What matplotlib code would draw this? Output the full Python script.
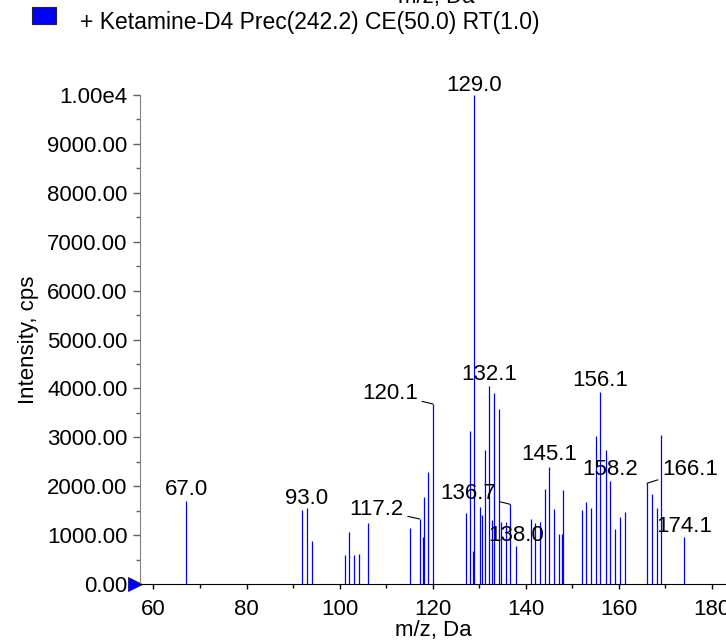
import matplotlib
matplotlib.use('Agg')
import matplotlib.pyplot as plt
from matplotlib.ticker import MultipleLocator, FuncFormatter

plt.rcParams['font.family'] = ['Liberation Sans', 'DejaVu Sans']

# product ion spectrum
mz = [67.0, 92.0, 93.0, 94.1, 101.1, 102.1, 103.1, 104.1, 106.1, 115.1,
      117.2, 117.9, 118.2, 119.1, 120.1, 127.1, 128.1, 128.6, 129.0, 130.1,
      130.6, 131.2, 132.1, 132.7, 133.2, 134.2, 134.7, 135.7, 136.7, 138.0,
      141.1, 142.1, 143.1, 144.1, 145.1, 146.1, 147.2, 147.8, 148.1, 152.1,
      153.1, 154.1, 155.2, 156.1, 157.2, 158.2, 159.2, 160.3, 161.3, 166.1,
      167.2, 168.2, 169.2, 174.1]
intensity = [1700, 1510, 1550, 880, 600, 1060, 590, 610, 1240, 1150,
             1330, 970, 1770, 2290, 3680, 1460, 3130, 680, 10000, 1580,
             1410, 2740, 4050, 1310, 3900, 3570, 1270, 1270, 1630, 780,
             1330, 1240, 1260, 1940, 2400, 1530, 1020, 1020, 1920, 1510,
             1670, 1550, 3030, 3930, 2740, 2110, 1130, 1360, 1470, 2060,
             1850, 1550, 3050, 960]

labelled = [67.0, 93.0, 117.2, 120.1, 129.0, 132.1, 136.7, 138.0,
            145.1, 156.1, 158.2, 166.1, 174.1]

legend_text = '+ Ketamine-D4 Prec(242.2) CE(50.0) RT(1.0)'

# label offsets in pixels (dx of text centre, dy of baseline) and leader flag
label_pos = {
    67.0: (0, 6, False), 93.0: (0, 4, False), 117.2: (-43, 4, True),
    120.1: (-43, 5, True), 129.0: (0, 4, False), 132.1: (0, 6, False),
    136.7: (-42, 5, True), 138.0: (0, 5, False), 145.1: (0, 7, False),
    156.1: (0, 6, False), 158.2: (0, 6, False), 166.1: (43, 8, True),
    174.1: (0, 5, False),
}

W, H = 726, 641
fig = plt.figure(figsize=(W / 100, H / 100), dpi=100)
ax = fig.add_axes([140 / W, 57 / H, 586 / W, 489 / H])

ax.vlines(mz, 0, intensity, colors='#0000ff', linewidth=0.9)

ax.set_xlim(57.1, 183.1)
ax.set_ylim(0, 10000)

for spine in ('top', 'right'):
    ax.spines[spine].set_visible(False)
ax.spines['left'].set_color('#808080')
ax.spines['bottom'].set_color('black')

ax.xaxis.set_major_locator(MultipleLocator(20))
ax.xaxis.set_minor_locator(MultipleLocator(10))
ax.yaxis.set_major_locator(MultipleLocator(1000))
ax.yaxis.set_minor_locator(MultipleLocator(500))
ax.yaxis.set_major_formatter(FuncFormatter(
    lambda v, p: '1.00e4' if v >= 10000 else f'{v:.2f}'))
ax.tick_params(axis='y', which='major', length=5, width=1, color='#606060',
               labelsize=16, pad=4)
ax.tick_params(axis='y', which='minor', length=3, width=1, color='#606060')
ax.tick_params(axis='x', which='major', length=3.5, width=1, labelsize=16, pad=7)
ax.tick_params(axis='x', which='minor', length=3, width=1)

ax.set_xlabel('m/z, Da', fontsize=16, labelpad=0)
ax.set_ylabel('Intensity, cps', fontsize=16, labelpad=6)

# triangle marker at the origin
ax.plot([56.1], [0], marker='>', markersize=10, color='#0000ff',
        markeredgecolor='#000080', markeredgewidth=0.5, clip_on=False)

for m in labelled:
    i = mz.index(m)
    dx, dy, leader = label_pos[m]
    props = None
    if leader:
        props = dict(arrowstyle='-', color='black', lw=0.8, shrinkA=1, shrinkB=0)
    ax.annotate(f'{m:.1f}', xy=(m, intensity[i]), xytext=(dx, dy),
                textcoords='offset pixels', ha='center', va='baseline',
                fontsize=16, arrowprops=props, annotation_clip=False)

# legend square and title line
fig.patches.append(plt.Rectangle((32 / W, 1 - 24 / H), 24 / W, 17 / H,
                                 transform=fig.transFigure, facecolor='#0000ff',
                                 edgecolor='#202040', linewidth=0.8))
fig.text(80 / W, 1 - 29 / H, legend_text, fontsize=16.5, va='baseline', ha='left')

# x label of the panel above, cut off by the figure edge
fig.text(436 / W, 1 - 3 / H, 'm/z, Da', fontsize=16, va='baseline', ha='center')

fig.savefig('out.png', dpi=100)
